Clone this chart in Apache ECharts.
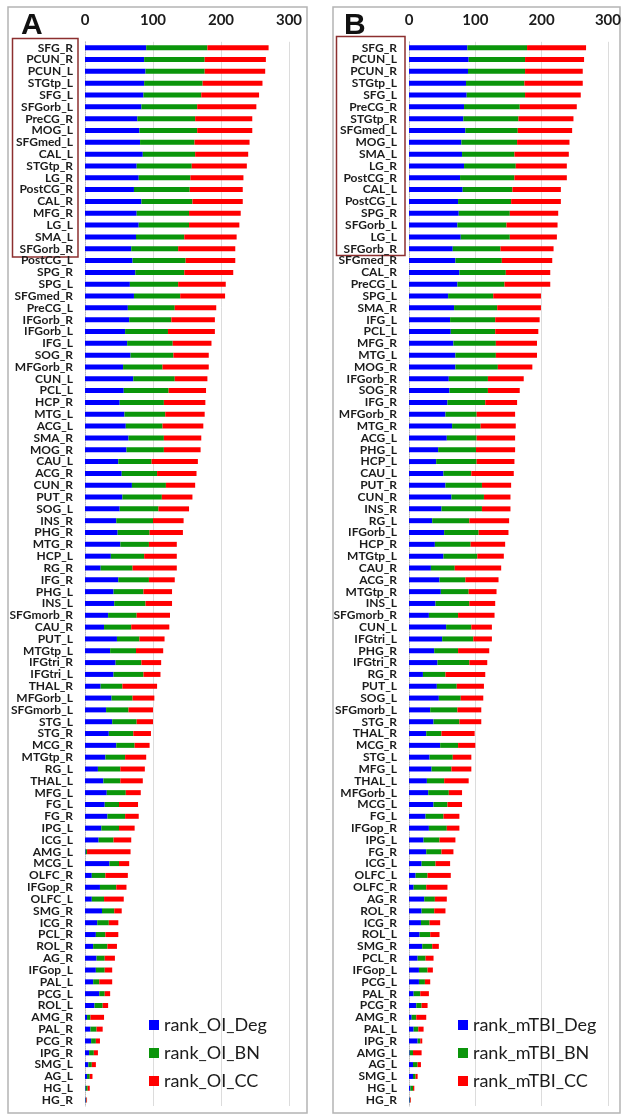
<!DOCTYPE html>
<html>
<head>
<meta charset="utf-8">
<script src="https://cdn.jsdelivr.net/npm/echarts@6/dist/echarts.min.js"></script>
<style>
  html, body { margin: 0; padding: 0; background: #fff; }
  #chart { width: 624px; height: 1118px; }
</style>
</head>
<body>
<div id="chart"></div>
<script>
// Panel A: regions ranked by summed rank in the OI group
const regionsA = ['SFG_R','PCUN_R','PCUN_L','STGtp_L','SFG_L','SFGorb_L','PreCG_R','MOG_L','SFGmed_L','CAL_L',
  'STGtp_R','LG_R','PostCG_R','CAL_R','MFG_R','LG_L','SMA_L','SFGorb_R','PostCG_L','SPG_R',
  'SPG_L','SFGmed_R','PreCG_L','IFGorb_R','IFGorb_L','IFG_L','SOG_R','MFGorb_R','CUN_L','PCL_L',
  'HCP_R','MTG_L','ACG_L','SMA_R','MOG_R','CAU_L','ACG_R','CUN_R','PUT_R','SOG_L',
  'INS_R','PHG_R','MTG_R','HCP_L','RG_R','IFG_R','PHG_L','INS_L','SFGmorb_R','CAU_R',
  'PUT_L','MTGtp_L','IFGtri_R','IFGtri_L','THAL_R','MFGorb_L','SFGmorb_L','STG_L','STG_R','MCG_R',
  'MTGtp_R','RG_L','THAL_L','MFG_L','FG_L','FG_R','IPG_L','ICG_L','AMG_L','MCG_L',
  'OLFC_R','IFGop_R','OLFC_L','SMG_R','ICG_R','PCL_R','ROL_R','AG_R','IFGop_L','PAL_L',
  'PCG_L','ROL_L','AMG_R','PAL_R','PCG_R','IPG_R','SMG_L','AG_L','HG_L','HG_R'];
const oiDeg = [90,87,89,87,86,83,77,80,81,85, 76,79,72,83,76,79,75,68,70,74,
  66,72,63,65,59,62,67,56,71,57, 51,58,60,64,61,49,54,69,55,51,
  46,48,52,38,23,49,42,43,34,28, 47,37,45,42,23,39,31,40,35,46,
  30,19,27,32,29,33,24,20,1,36, 10,22,10,25,18,16,12,17,16,12,
  21,14,3,8,9,6,5,3,1,1];
const oiBN = [90,89,87,86,85,82,85,85,80,77, 81,76,82,75,77,74,71,69,78,72,
  71,68,69,62,63,67,63,58,61,66, 65,60,54,52,55,49,52,50,58,57,
  54,47,42,49,47,45,44,46,42,40, 33,38,38,44,32,31,33,36,36,27,
  29,33,25,28,21,26,26,22,2,14, 20,24,18,18,17,14,21,12,13,9,
  8,12,5,9,7,7,5,4,3,1];
const oiCC = [90,90,89,88,85,87,84,81,81,78, 81,78,78,74,76,74,77,84,73,72,
  70,66,61,64,69,57,52,68,48,55, 61,58,60,55,54,68,58,43,45,45,
  45,49,41,48,65,38,42,39,49,56, 37,40,29,25,51,32,36,24,26,22,
  31,36,33,22,28,20,23,26,64,15, 33,15,29,11,14,19,14,15,11,19,
  8,8,20,9,6,6,6,4,3,1];

// Panel B: regions ranked by summed rank in the mTBI group
const regionsB = ['SFG_R','PCUN_L','PCUN_R','STGtp_L','SFG_L','PreCG_R','STGtp_R','SFGmed_L','MOG_L','SMA_L',
  'LG_R','PostCG_R','CAL_L','PostCG_L','SPG_R','SFGorb_L','LG_L','SFGorb_R','SFGmed_R','CAL_R',
  'PreCG_L','SPG_L','SMA_R','IFG_L','PCL_L','MFG_R','MTG_L','MOG_R','IFGorb_R','SOG_R',
  'IFG_R','MFGorb_R','MTG_R','ACG_L','PHG_L','HCP_L','CAU_L','PUT_R','CUN_R','INS_R',
  'RG_L','IFGorb_L','HCP_R','MTGtp_L','CAU_R','ACG_R','MTGtp_R','INS_L','SFGmorb_R','CUN_L',
  'IFGtri_L','PHG_R','IFGtri_R','RG_R','PUT_L','SOG_L','SFGmorb_L','STG_R','THAL_R','MCG_R',
  'STG_L','MFG_L','THAL_L','MFGorb_L','MCG_L','FG_L','IFGop_R','IPG_L','FG_R','ICG_L',
  'OLFC_L','OLFC_R','AG_R','ROL_R','ICG_R','ROL_L','SMG_R','PCL_R','IFGop_L','PCG_L',
  'PAL_R','PCG_R','AMG_R','PAL_L','IPG_R','AMG_L','AG_L','SMG_L','HG_L','HG_R'];
const tbiDeg = [88,90,89,86,87,83,82,85,79,80, 83,77,81,74,75,73,78,66,70,76,
  73,59,68,62,63,67,70,70,60,61, 58,55,65,57,44,41,52,55,64,49,
  35,53,39,52,33,46,48,40,30,56, 50,38,43,21,42,45,32,37,26,47,
  31,34,27,29,37,25,30,22,26,19, 10,7,23,19,18,16,20,13,15,15,
  7,11,4,7,13,1,6,6,2,1];
const tbiBN = [90,85,86,88,88,84,83,79,84,79, 78,82,75,80,77,74,74,72,70,70,
  71,68,65,68,67,64,61,64,59,58, 57,47,43,45,57,61,42,55,49,61,
  56,52,54,51,36,39,42,51,44,38, 47,36,48,34,30,33,41,39,23,27,
  35,30,26,31,21,27,27,24,23,21, 18,19,16,19,13,16,15,12,13,9,
  10,8,7,7,4,5,7,4,4,1];
const tbiCC = [89,89,87,88,84,86,83,82,79,82, 77,79,73,75,73,77,71,80,76,67,
  69,72,66,67,65,62,62,52,54,48, 48,58,53,58,59,57,64,44,40,43,
  60,45,52,40,70,50,42,39,55,31, 28,47,27,60,41,34,36,33,50,26,
  28,30,37,20,22,24,19,24,18,22, 35,32,18,17,16,14,10,12,8,8,
  13,9,15,8,3,13,5,3,2,1];

const seriesNamesA = ['rank_OI_Deg','rank_OI_BN','rank_OI_CC'];
const seriesNamesB = ['rank_mTBI_Deg','rank_mTBI_BN','rank_mTBI_CC'];
const xTicks = [0, 100, 200, 300];

const COLORS = ['#0000ff', '#0b950b', '#ff0000'];
const FONT = 'Lato, "Open Sans", sans-serif';
const TXT = '#1c1c1c';

const chart = echarts.init(document.getElementById('chart'), null, { renderer: 'canvas' });

const gridTop = 41.8, gridHeight = 1064.2;

function xAxisFor(gridIndex) {
  return {
    type: 'value', gridIndex, position: 'top',
    min: xTicks[0], max: xTicks[xTicks.length - 1], interval: 100,
    axisLine: { show: false }, axisTick: { show: false },
    axisLabel: { color: TXT, fontFamily: FONT, fontWeight: 'bold', fontSize: 15, margin: 14 },
    splitLine: { show: true, showMinLine: false, lineStyle: { color: '#dcdcdc', width: 1 } }
  };
}
function yAxisFor(gridIndex, data) {
  return {
    type: 'category', gridIndex, data, inverse: true,
    axisLine: { show: true, lineStyle: { color: '#b8b8b8', type: 'dotted', width: 1 } },
    axisTick: { show: false },
    axisLabel: { color: TXT, fontFamily: FONT, fontWeight: 'bold', fontSize: 12, margin: 12, interval: 0 }
  };
}
function bars(names, arrays, axisIndex, stack) {
  return names.map((n, i) => ({
    name: n, type: 'bar', stack, xAxisIndex: axisIndex, yAxisIndex: axisIndex,
    data: arrays[i], barWidth: 5, itemStyle: { color: COLORS[i] },
    emphasis: { disabled: true }, animation: false
  }));
}
function legendFor(names, left) {
  return {
    data: names, orient: 'vertical', left, top: 1011,
    icon: 'rect', itemWidth: 10, itemHeight: 10, itemGap: 10,
    textStyle: { color: TXT, fontFamily: FONT, fontSize: 18 },
    selectedMode: false
  };
}

chart.setOption({
  backgroundColor: '#ffffff',
  animation: false,
  grid: [
    { left: 85, width: 204, top: gridTop, height: gridHeight },
    { left: 409, width: 203, top: gridTop, height: gridHeight }
  ],
  xAxis: [xAxisFor(0), xAxisFor(1)],
  yAxis: [yAxisFor(0, regionsA), yAxisFor(1, regionsB)],
  legend: [legendFor(seriesNamesA, 144), legendFor(seriesNamesB, 453)],
  series: [
    ...bars(seriesNamesA, [oiDeg, oiBN, oiCC], 0, 'oi'),
    ...bars(seriesNamesB, [tbiDeg, tbiBN, tbiCC], 1, 'tbi')
  ],
  graphic: [
    // panel frames
    { type: 'rect', shape: { x: 8, y: 7, width: 299, height: 1106 }, style: { fill: 'none', stroke: '#b4b4b4', lineWidth: 1.5 }, silent: true },
    { type: 'rect', shape: { x: 333, y: 7, width: 287, height: 1106 }, style: { fill: 'none', stroke: '#b4b4b4', lineWidth: 1.5 }, silent: true },
    // highlight boxes around the top regions
    { type: 'rect', shape: { x: 12.5, y: 38.5, width: 65.5, height: 218.5 }, style: { fill: 'none', stroke: '#8c2f2f', lineWidth: 1.5 }, silent: true },
    { type: 'rect', shape: { x: 336.5, y: 36.5, width: 68.5, height: 219 }, style: { fill: 'none', stroke: '#8c2f2f', lineWidth: 1.5 }, silent: true },
    // panel letters
    { type: 'text', x: 21, y: 11, style: { text: 'A', font: 'bold 30px "Liberation Sans", Arial, sans-serif', fill: '#111' }, silent: true },
    { type: 'text', x: 344, y: 11, style: { text: 'B', font: 'bold 30px "Liberation Sans", Arial, sans-serif', fill: '#111' }, silent: true }
  ]
});
</script>
</body>
</html>
